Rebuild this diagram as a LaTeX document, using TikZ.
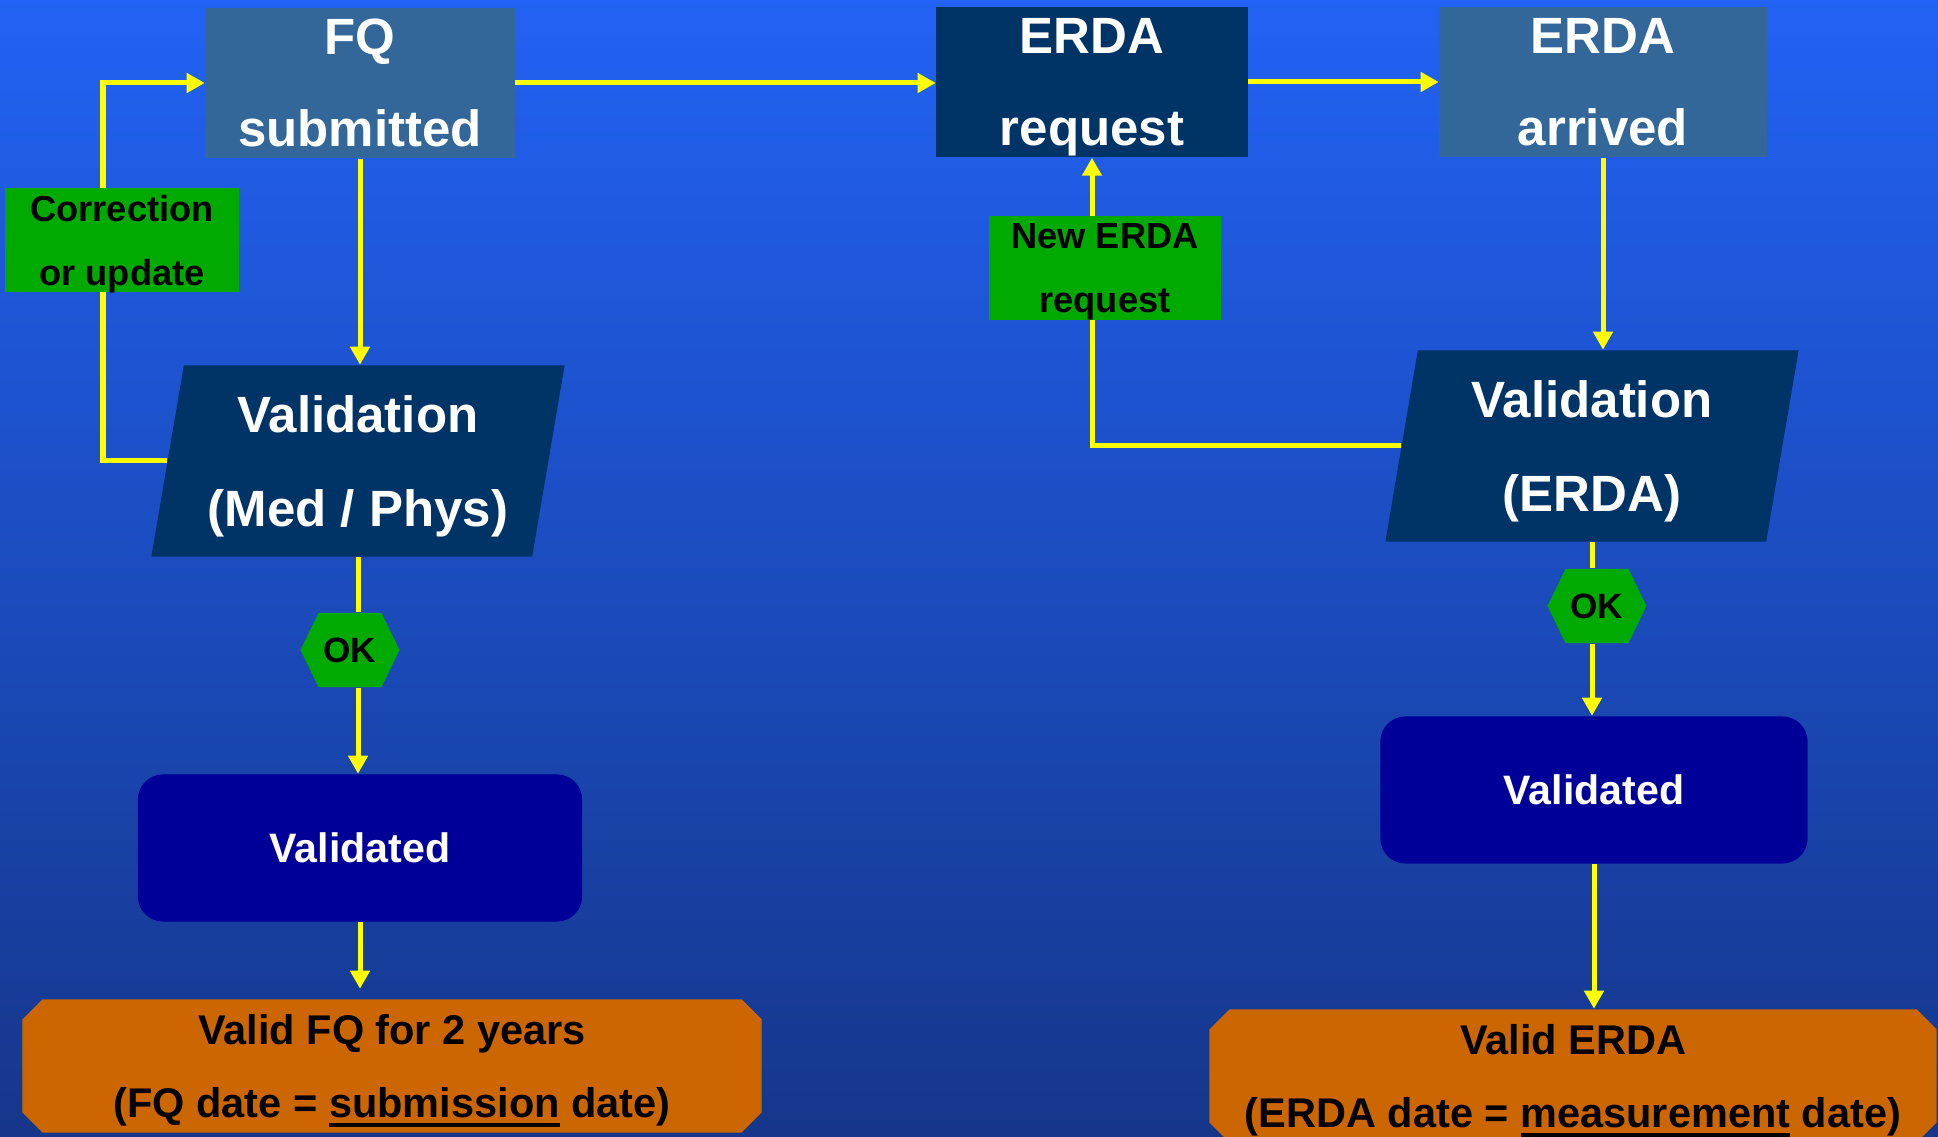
\documentclass[tikz,border=0pt]{standalone}
\usepackage{fontspec}
\setmainfont{Liberation Sans}
\usetikzlibrary{arrows.meta}
\usetikzlibrary{shapes.geometric}
\usepackage{xcolor}

\definecolor{bgtop}{HTML}{2262F4}
\definecolor{bgbot}{HTML}{15368A}
\definecolor{steelbox}{HTML}{336699}
\definecolor{navybox}{HTML}{003366}
\definecolor{notegreen}{HTML}{00AA00}
\definecolor{donebox}{HTML}{000099}
\definecolor{resultorange}{HTML}{CC6600}
\definecolor{flowyellow}{HTML}{FFFF00}

\newcommand{\fatul}[1]{\setbox0=\hbox{#1}\rlap{\rule[-2.6pt]{\wd0}{1.3pt}}\box0\relax}

\tikzset{
  titlebox/.style={rectangle, inner sep=0pt, text=white, align=center, text depth=0pt,
    font=\bfseries\fontsize{14.5}{26.2}\selectfont},
  checkbox/.style={trapezium, trapezium left angle=76, trapezium right angle=104,
    trapezium stretches body, fill=navybox, inner sep=0pt, text=white, align=center,
    minimum width=4.13cm, minimum height=1.91cm, text depth=0pt,
    font=\bfseries\fontsize{14.5}{26.5}\selectfont},
  notebox/.style={rectangle, fill=notegreen, inner sep=0pt, align=center, text depth=0pt,
    font=\bfseries\fontsize{10.3}{18.2}\selectfont},
  % corners cut off: colour, cut along x, cut along y
  cutfill/.style n args={3}{path picture={\fill[#1]
    ([xshift=#2]path picture bounding box.north west) --
    ([xshift=-#2]path picture bounding box.north east) --
    ([yshift=-#3]path picture bounding box.north east) --
    ([yshift=#3]path picture bounding box.south east) --
    ([xshift=-#2]path picture bounding box.south east) --
    ([xshift=#2]path picture bounding box.south west) --
    ([yshift=#3]path picture bounding box.south west) --
    ([yshift=-#3]path picture bounding box.north west) -- cycle;}},
  oktag/.style={rectangle, inner sep=0pt, minimum width=0.99cm, minimum height=0.74cm,
    cutfill={notegreen}{0.18cm}{0.37cm},
    font=\bfseries\fontsize{10}{12}\selectfont},
  donebox/.style={rectangle, rounded corners=0.25cm, fill=donebox, text=white,
    inner sep=0pt, font=\bfseries\fontsize{11.7}{14}\selectfont},
  resultbox/.style={rectangle, inner sep=0pt, align=center, text depth=0pt,
    cutfill={resultorange}{0.2cm}{0.2cm},
    font=\bfseries\fontsize{11.8}{21}\selectfont},
  flow/.style={draw=flowyellow, line width=0.05cm, -{Triangle[length=0.18cm,width=0.19cm]}},
  plainflow/.style={draw=flowyellow, line width=0.05cm}
}

\begin{document}
\begin{tikzpicture}[x=0.01cm, y=-0.01cm]

\useasboundingbox (0,0) rectangle (1938,1137);
\shade[top color=bgtop, bottom color=bgbot] (0,0) rectangle (1938,1137);

% top row
\node[titlebox, fill=steelbox, minimum width=3.09cm, minimum height=1.50cm] (fq) at (360,83) {FQ\\submitted};
\node[titlebox, fill=navybox, minimum width=3.11cm, minimum height=1.50cm] (erdareq) at (1092,82) {ERDA\\request};
\node[titlebox, fill=steelbox, minimum width=3.27cm, minimum height=1.50cm] (erdaarr) at (1603,82) {ERDA\\arrived};

% validation steps
\node[checkbox] (val1) at (358,461) {Validation\\(Med / Phys)};
\node[checkbox] (val2) at (1592,446) {Validation\\(ERDA)};

\node[oktag] (ok1) at (350,650) {OK};
\node[oktag] (ok2) at (1597,606) {OK};

\node[donebox, minimum width=4.44cm, minimum height=1.47cm] (done1) at (360,848) {Validated};
\node[donebox, minimum width=4.27cm, minimum height=1.47cm] (done2) at (1594,790) {Validated};

% results
\node[resultbox, minimum width=7.39cm, minimum height=1.33cm] (res1) at (392,1066)
  {Valid FQ for 2 years\\(FQ date = \fatul{submission} date)};
\node[resultbox, minimum width=7.27cm, minimum height=1.33cm] (res2) at (1573,1076)
  {Valid ERDA\\(ERDA date = \fatul{measurement} date)};

\coordinate (cbend) at (103,0);

% connectors
\draw[flow] (fq.east) -- (fq.east -| erdareq.west);
\draw[flow] (erdareq.east) -- (erdareq.east -| erdaarr.west);
\draw[flow] (fq.south) -- (fq.south |- val1.north);
\draw[flow] (erdaarr.south) -- (erdaarr.south |- val2.north);
\draw[plainflow] (val1.south) -- (val1.south |- ok1.north);
\draw[plainflow] (val2.south) -- (val2.south |- ok2.north);
\draw[flow] (val1.south |- ok1.south) -- (val1.south |- done1.north);
\draw[flow] (val2.south |- ok2.south) -- (val2.south |- done2.north);
\draw[flow, shorten >=0.1cm] (done1.south) -- (done1.south |- res1.north);
\draw[flow] (done2.south) -- (done2.south |- res2.north);

%loops back
\draw[flow] (val1.west) -- (val1.west -| cbend) |- (fq.west);
\draw[flow] (val2.west) -| (erdareq.south);

\node[notebox, minimum width=2.33cm, minimum height=1.04cm] (fix) at (122,240) {Correction\\or update};
\node[notebox, minimum width=2.32cm, minimum height=1.04cm] (again) at (1105,268) {New ERDA\\request};

\end{tikzpicture}
\end{document}
